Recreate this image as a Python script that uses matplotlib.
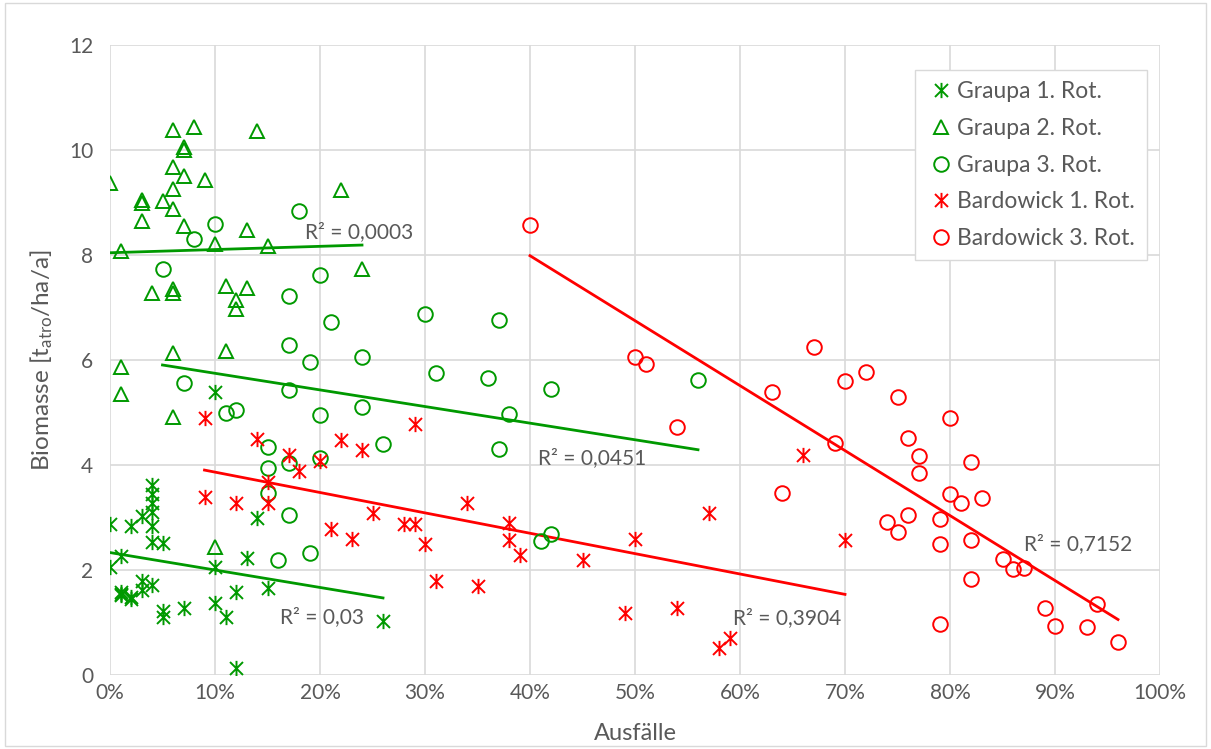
import numpy as np
import matplotlib
matplotlib.use("Agg")
import matplotlib.pyplot as plt
from matplotlib.path import Path
from matplotlib.patches import Rectangle
from matplotlib.ticker import FuncFormatter

plt.rcParams['font.family'] = ['Lato', 'DejaVu Sans']
plt.rcParams['mathtext.fontset'] = 'custom'
plt.rcParams['mathtext.rm'] = 'Lato'
plt.rcParams['mathtext.it'] = 'Lato:italic'

# ---------------- data ----------------
g1_x = [0, 0, 1, 1, 1, 1, 2, 2, 2, 3, 3, 3, 4, 4, 4, 4, 4, 4, 4, 5, 5, 5, 7, 10, 10, 10, 11, 12, 12, 13, 14, 15, 26]
g1_y = [2.88, 2.06, 2.27, 1.58, 1.55, 1.52, 2.84, 1.48, 1.44, 3.03, 1.80, 1.62, 3.62, 3.45, 3.27, 3.10, 2.84, 2.54, 1.71,
        2.52, 1.21, 1.11, 1.27, 5.40, 2.06, 1.37, 1.10, 1.58, 0.13, 2.23, 2.99, 1.66, 1.02]

g2_x = [0, 1, 1, 1, 3, 3, 3, 4, 5, 6, 6, 6, 6, 6, 6, 6, 6, 7, 7, 7, 7, 8, 9, 10, 10, 11, 11, 12, 12, 13, 13, 14, 15, 22, 24]
g2_y = [9.37, 8.08, 5.86, 5.35, 9.05, 9.00, 8.65, 7.28, 9.02, 10.39, 9.68, 9.25, 8.87, 7.35, 7.28, 6.13, 4.92,
        10.05, 10.00, 9.50, 8.56, 10.44, 9.42, 8.21, 2.44, 7.41, 6.18, 7.14, 6.97, 8.48, 7.38, 10.37, 8.17, 9.24, 7.73]

g3_x = [5, 7, 8, 10, 11, 12, 15, 15, 15, 16, 17, 17, 17, 17, 17, 18, 19, 19, 20, 20, 20, 21, 24, 24, 26, 30, 31, 36,
        37, 37, 38, 41, 42, 42, 56]
g3_y = [7.73, 5.57, 8.30, 8.59, 5.00, 5.05, 4.34, 3.94, 3.46, 2.19, 7.21, 6.28, 5.42, 4.03, 3.05, 8.83, 5.97, 2.33,
        7.61, 4.95, 4.13, 6.72, 6.05, 5.10, 4.40, 6.88, 5.75, 5.66, 6.76, 4.30, 4.98, 2.55, 5.45, 2.69, 5.62]

b1_x = [9, 9, 12, 14, 15, 15, 17, 18, 20, 21, 22, 23, 24, 25, 28, 29, 29, 30, 31, 34, 35, 38, 38, 39, 45, 49, 50, 54,
        57, 58, 59, 66, 70]
b1_y = [4.89, 3.40, 3.28, 4.49, 3.68, 3.28, 4.19, 3.89, 4.08, 2.79, 4.48, 2.59, 4.29, 3.09, 2.88, 2.88, 4.78, 2.49,
        1.79, 3.28, 1.70, 2.90, 2.57, 2.29, 2.19, 1.19, 2.60, 1.28, 3.08, 0.51, 0.70, 4.19, 2.58]

b3_x = [40, 50, 51, 54, 63, 64, 67, 69, 70, 72, 74, 75, 75, 76, 76, 77, 77, 79, 79, 79, 80, 80, 81, 82, 82, 82, 83,
        85, 86, 87, 89, 90, 93, 94, 96]
b3_y = [8.57, 6.06, 5.93, 4.72, 5.40, 3.47, 6.25, 4.42, 5.60, 5.78, 2.92, 5.29, 2.73, 4.52, 3.05, 4.17, 3.84, 2.97,
        2.50, 0.98, 4.90, 3.45, 3.27, 4.05, 2.57, 1.83, 3.38, 2.21, 2.01, 2.03, 1.28, 0.93, 0.92, 1.35, 0.63]

series_names = ["Graupa 1. Rot.", "Graupa 2. Rot.", "Graupa 3. Rot.", "Bardowick 1. Rot.", "Bardowick 3. Rot."]
r2_labels = ["R² = 0,03", "R² = 0,0003", "R² = 0,0451", "R² = 0,3904", "R² = 0,7152"]
x_ticks = [0, 10, 20, 30, 40, 50, 60, 70, 80, 90, 100]
y_ticks = [0, 2, 4, 6, 8, 10, 12]

# ---------------- style ----------------
GREEN = '#009900'
RED = '#FF0000'
TXT = '#595959'
GRID = '#D9D9D9'

star = Path([(0, -1), (0, 1), (-0.85, -0.85), (0.85, 0.85), (-0.85, 0.85), (0.85, -0.85)],
            [Path.MOVETO, Path.LINETO, Path.MOVETO, Path.LINETO, Path.MOVETO, Path.LINETO])

fig = plt.figure(figsize=(12.11, 7.49), dpi=100)
fig.patches.append(Rectangle((0.004, 0.004), 0.992, 0.992, transform=fig.transFigure,
                             fill=False, edgecolor='#D9D9D9', linewidth=1.0))
ax = fig.add_axes([110 / 1211, 74 / 749, 1050 / 1211, 630 / 749])

specs = [
    (g1_x, g1_y, GREEN, star, 11),
    (g2_x, g2_y, GREEN, '^', 10.5),
    (g3_x, g3_y, GREEN, 'o', 10.5),
    (b1_x, b1_y, RED, star, 11),
    (b3_x, b3_y, RED, 'o', 10.5),
]

handles = []
for (xs, ys, col, mk, ms), name in zip(specs, series_names):
    h, = ax.plot(xs, ys, linestyle='none', marker=mk, markersize=ms, markerfacecolor='none',
                 markeredgecolor=col, markeredgewidth=1.4, label=name, zorder=3)
    handles.append(h)

# linear trendlines (Excel style: from min x to max x of each series)
for xs, ys, col in [(g1_x, g1_y, GREEN), (g2_x, g2_y, GREEN), (g3_x, g3_y, GREEN),
                    (b1_x, b1_y, RED), (b3_x, b3_y, RED)]:
    xs = np.asarray(xs, float)
    ys = np.asarray(ys, float)
    k, d = np.polyfit(xs, ys, 1)
    xx = np.array([xs.min(), xs.max()])
    ax.plot(xx, k * xx + d, color=col, linewidth=2.0, zorder=2)

# R² labels
r2_pos = [(16.2, 1.1), (18.6, 8.44), (40.8, 4.13), (59.3, 1.09), (87.0, 2.5)]
for (px, py), lab in zip(r2_pos, r2_labels):
    ax.text(px, py, lab, fontsize=15, color=TXT, ha='left', va='center', zorder=4)

ax.set_xlim(0, 100)
ax.set_ylim(0, 12)
ax.set_xticks(x_ticks)
ax.set_yticks(y_ticks)
ax.xaxis.set_major_formatter(FuncFormatter(lambda v, p: f"{v:.0f}%"))
ax.grid(True, color=GRID, linewidth=1.2, zorder=0)
ax.set_axisbelow(True)
for s in ax.spines.values():
    s.set_visible(False)
ax.tick_params(length=0, labelsize=15, labelcolor=TXT)
ax.tick_params(axis='x', pad=6)
ax.tick_params(axis='y', pad=12)

ax.set_xlabel("Ausfälle", fontsize=17, color=TXT, labelpad=14)
ax.set_ylabel("Biomasse [t$_{\\mathrm{atro}}$/ha/a]", fontsize=17.5, color=TXT, labelpad=10)

leg = ax.legend(handles=handles, loc='upper left', bbox_to_anchor=((915 - 110) / 1050, (675 - 70) / 630),
                fontsize=16.5, frameon=True, fancybox=False, edgecolor='#D9D9D9', framealpha=1,
                handletextpad=0.05, handlelength=1.3, labelspacing=0.68, borderpad=0.5, borderaxespad=0,
                labelcolor=TXT)
leg.get_frame().set_linewidth(1.0)

fig.savefig("out.png", dpi=100)
